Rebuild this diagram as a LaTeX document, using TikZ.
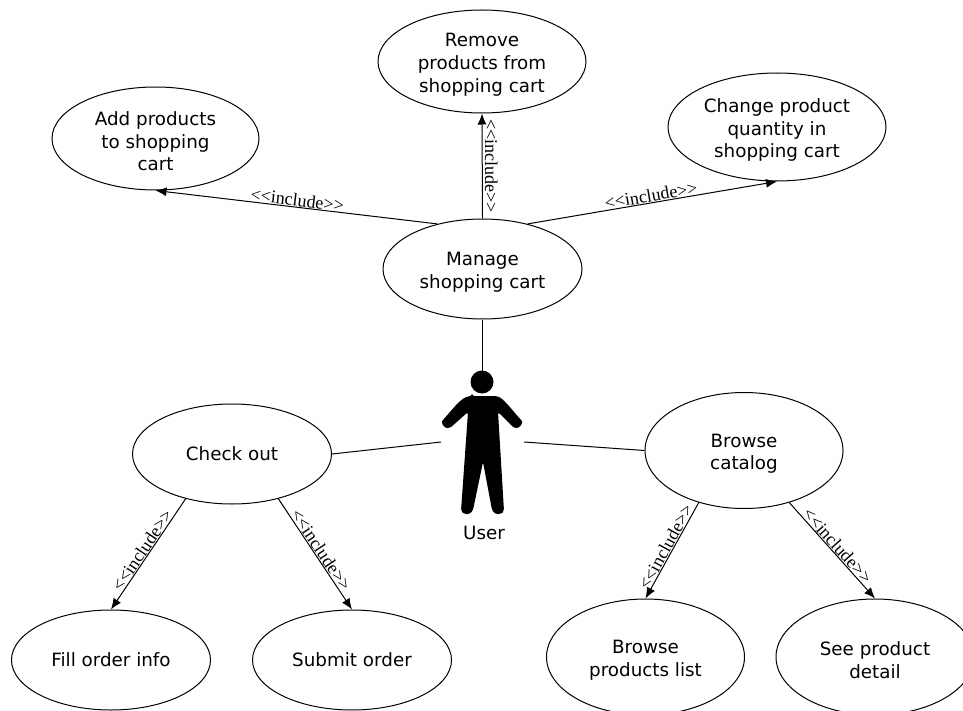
\documentclass[tikz,border=0pt]{standalone}
\usepackage{fontspec}
\usepackage{tikz}
\usepackage{xcolor}
\usetikzlibrary{shapes.geometric,arrows.meta}
\setmainfont{DejaVu Sans}
\newfontfamily\labelfont{Liberation Serif}
\newcommand{\firstline}{\rule{0pt}{20pt}}
\tikzset{
    usecase/.style={ellipse, draw=black, line width=1pt, inner sep=0pt, align=center, font=\fontsize{18.3}{22.6}\selectfont},
    assoc/.style={draw=black, line width=1pt},
    incl/.style={draw=black, line width=1pt, -{Latex[length=11pt,width=9pt]}},
    incllabel/.style={font=\labelfont\fontsize{18}{20}\selectfont, inner sep=0.5pt, sloped, above},
}
\begin{document}
\begin{tikzpicture}[x=1pt, y=-1pt]
    \useasboundingbox (0,0) rectangle (963,711);
    \clip (0,0) rectangle (963,711);
    \node[usecase, minimum width=207pt, minimum height=103pt] (add) at (155.5,138.5) {\firstline Add products\\to shopping\\cart};
    \node[usecase, minimum width=208pt, minimum height=103pt] (remove) at (482,61.5) {\firstline Remove\\products from\\shopping cart};
    \node[usecase, minimum width=218pt, minimum height=108pt] (change) at (777,127) {\firstline Change product\\quantity in\\shopping cart};
    \node[usecase, minimum width=199pt, minimum height=100pt] (manage) at (482.5,269) {\firstline Manage\\shopping cart};
    \node[usecase, minimum width=199pt, minimum height=100pt] (checkout) at (232,454) {Check out};
    \node[usecase, minimum width=198pt, minimum height=116pt] (browse) at (744,450.5) {\firstline Browse\\catalog};
    \node[usecase, minimum width=199pt, minimum height=100pt] (fill) at (111,660) {Fill order info};
    \node[usecase, minimum width=199pt, minimum height=100pt] (submit) at (352,660) {Submit order};
    \node[usecase, minimum width=198pt, minimum height=116pt] (list) at (645.5,657) {\firstline Browse\\products list};
    \node[usecase, minimum width=198pt, minimum height=116pt] (detail) at (875,657) {\firstline See product\\detail};

    % actor
    \fill[black] (482,382) circle (11.5pt);
    \fill[black, rounded corners=2.5pt] (472,396) -- (494,396) .. controls (503,397) and (510,408) .. (523,422) -- (519,428) -- (514,428) -- (498,412) -- (504,511) -- (501,514) -- (495,514) -- (492,510) -- (483,462) -- (473,510) -- (470,514) -- (464,514) -- (461,511) -- (468,412) -- (450,428) -- (445,428) -- (441,422) .. controls (454,408) and (461,397) .. (472,396) -- cycle;
    \node[inner sep=0pt, font=\fontsize{18.3}{22}\selectfont] (user) at (484,533) {User};
    \coordinate (userleft) at (441,442);
    \coordinate (userright) at (524,442);
    \coordinate (userhead) at (482.5,372);

    \draw[assoc] (manage.south) -- (userhead);
    \draw[assoc] (checkout.east) -- (userleft);
    \draw[assoc] (browse.west) -- (userright);

    \draw[incl] (manage.135) -- node[incllabel] {<<include>>} (add.south);
    \draw[incl] (manage.north) -- node[font=\labelfont\fontsize{18}{20}\selectfont, rotate=-90, yshift=9pt, inner sep=0pt] {<<include>>} (remove.south);
    \draw[incl] (manage.45) -- node[incllabel] {<<include>>} (change.south);
    \draw[incl] (checkout.224) -- node[incllabel] {<<include>>} (fill.north);
    \draw[incl] (checkout.316) -- node[incllabel] {<<include>>} (submit.north);
    \draw[incl] (browse.229) -- node[incllabel] {<<include>>} (list.north);
    \draw[incl] (browse.311) -- node[incllabel] {<<include>>} (detail.north);
\end{tikzpicture}
\end{document}
